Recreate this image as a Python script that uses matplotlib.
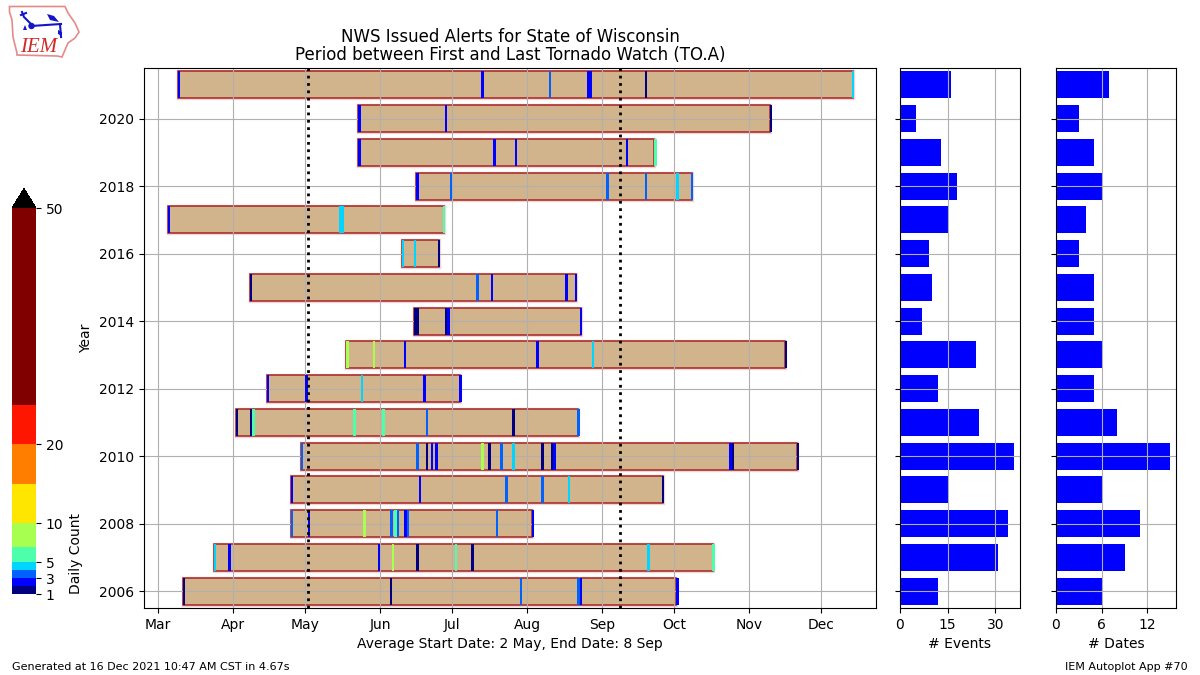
import matplotlib
matplotlib.use("Agg")
import matplotlib.pyplot as plt
from matplotlib.colors import BoundaryNorm
from matplotlib.colorbar import ColorbarBase
from matplotlib.patches import Polygon, Circle

W, H = 1200, 675

def rect(l, t, r, b):
    return [l / W, 1 - b / H, (r - l) / W, (b - t) / H]

years = [2021, 2020, 2019, 2018, 2017, 2016, 2015, 2014, 2013, 2012, 2011, 2010, 2009, 2008, 2007, 2006]
first_day = [69.2, 143.8, 143.8, 167.9, 65.0, 162.1, 99.0, 167.0, 138.8, 106.1, 93.2, 120.2, 116.0, 116.0, 84.1, 71.2]
last_day = [349.0, 314.7, 266.7, 282.2, 179.4, 177.3, 234.2, 236.2, 321.0, 186.1, 234.9, 326.0, 270.3, 216.2, 290.9, 275.7]
events = [16, 5, 13, 18, 15, 9, 10, 7, 24, 12, 25, 36, 15, 34, 31, 12]
dates = [7, 3, 5, 6, 4, 3, 5, 5, 6, 5, 8, 15, 6, 11, 9, 6]

mark_year = [2021] * 6 + [2020] * 3 + [2019] * 5 + [2018] * 6 + [2017] * 3 + [2016] * 3 + [2015] * 5 + [2014] * 4 \
    + [2013] * 6 + [2012] * 5 + [2011] * 8 + [2010] * 15 + [2009] * 6 + [2008] * 10 + [2007] * 9 + [2006] * 6
mark_day = [
    69.2, 194.85, 223.0, 238.8, 262.9, 348.6,
    143.8, 179.9, 314.7,
    143.8, 199.8, 208.9, 255.0, 266.6,
    167.9, 182.0, 246.7, 262.9, 275.7, 282.1,
    65.0, 135.9, 179.1,
    162.1, 167.0, 177.0,
    99.0, 192.8, 199.0, 229.7, 233.8,
    167.0, 179.9, 180.7, 235.9,
    138.8, 150.0, 162.9, 217.6, 240.9, 320.9,
    106.1, 121.8, 145.1, 170.8, 185.7,
    93.2, 99.0, 99.9, 141.7, 153.8, 172.0, 207.7, 234.7,
    120.2, 167.9, 172.0, 174.1, 175.8, 194.85, 197.8, 202.7, 207.7, 219.7, 223.9, 224.7, 297.7, 298.9, 325.9,
    116.0, 169.1, 204.8, 219.7, 230.9, 269.9,
    116.0, 123.0, 145.9, 157.1, 158.8, 160.0, 162.9, 164.1, 201.1, 216.0,
    84.1, 89.9, 152.1, 157.9, 167.9, 184.1, 190.7, 263.7, 290.7,
    71.2, 157.1, 211.0, 234.7, 235.9, 275.7,
]
mark_span = [
    0.8, 1.2, 0.8, 2.0, 0.8, 1.0,
    1.2, 0.8, 0.8,
    1.2, 1.2, 0.8, 0.8, 1.2,
    1.2, 0.8, 1.2, 0.8, 1.2, 0.8,
    0.8, 2.0, 0.8,
    0.8, 0.8, 0.8,
    0.8, 1.2, 0.8, 1.2, 0.8,
    2.0, 0.8, 1.2, 0.8,
    1.2, 0.8, 0.8, 1.2, 0.8, 0.8,
    0.8, 1.2, 0.8, 1.2, 1.2,
    0.8, 0.8, 1.2, 1.2, 1.2, 0.8, 1.2, 1.2,
    1.0, 1.2, 0.8, 0.8, 1.2, 1.2, 1.2, 1.2, 1.2, 1.2, 0.8, 1.2, 1.2, 0.8, 0.8,
    0.8, 0.8, 1.2, 1.2, 0.8, 0.8,
    0.8, 1.0, 1.2, 1.2, 1.2, 0.8, 1.2, 0.9, 0.8, 0.8,
    0.8, 1.2, 0.8, 0.8, 1.2, 0.8, 1.2, 1.2, 1.2,
    0.8, 0.8, 0.8, 1.2, 0.8, 1.2,
]
mark_count = [
    2, 2, 3, 2, 1, 4,
    2, 2, 1,
    2, 2, 2, 2, 5,
    2, 3, 3, 3, 4, 3,
    2, 4, 5,
    4, 4, 1,
    1, 3, 2, 2, 2,
    1, 1, 2, 2,
    7, 7, 2, 2, 4, 1,
    2, 2, 4, 2, 2,
    1, 1, 5, 5, 5, 3, 1, 3,
    3, 3, 1, 2, 2, 7, 1, 3, 4, 1, 1, 2, 2, 1, 1,
    2, 2, 3, 3, 4, 1,
    3, 2, 7, 3, 5, 3, 2, 3, 3, 2,
    4, 2, 2, 7, 1, 5, 1, 4, 5,
    1, 1, 3, 3, 2, 2,
]

month_days = [61, 92, 122, 153, 183, 214, 245, 275, 306, 336]
month_names = ["Mar", "Apr", "May", "Jun", "Jul", "Aug", "Sep", "Oct", "Nov", "Dec"]
avg_start_day = 123.2
avg_end_day = 252.7
bounds = [1, 2, 3, 4, 5, 7, 10, 15, 20, 25, 50]
bound_ticks = [1, 3, 5, 10, 20, 50]
year_ticks = list(range(2006, 2021, 2))

cmap = plt.get_cmap("jet").copy()
cmap.set_over("black")
norm = BoundaryNorm(bounds, cmap.N)

fig = plt.figure(figsize=(12, 6.75), dpi=100)
ax = fig.add_axes(rect(144, 68, 876, 608))
ax2 = fig.add_axes(rect(900, 68, 1020, 608))
ax3 = fig.add_axes(rect(1056, 68, 1176, 608))
cax = fig.add_axes(rect(12, 188.7, 36, 594))

# main panel
spans = [b - a for a, b in zip(first_day, last_day)]
ax.barh(years, spans, left=first_day, height=0.8, facecolor="none", edgecolor="#b2222230",
        linewidth=2.4, zorder=0.9)
ax.barh(years, spans, left=first_day, height=0.8, color="tan", edgecolor="#a82424", linewidth=1.1)
ax.barh(mark_year, mark_span, left=mark_day, height=0.8, color=[cmap(norm(c)) for c in mark_count],
        linewidth=0, zorder=3)
ax.axvline(avg_start_day, color="k", ls=":", lw=2, zorder=4)
ax.axvline(avg_end_day, color="k", ls=":", lw=2, zorder=4)
ax.set_xticks(month_days)
ax.set_xticklabels(month_names)
ax.set_yticks(year_ticks)
ax.set_xlim(55.07, 358.69)
ax.set_ylim(2005.5, 2021.5)
ax.grid(True)
ax.set_ylabel("Year")
ax.set_xlabel("Average Start Date: 2 May, End Date: 8 Sep")
ax.set_title("NWS Issued Alerts for State of Wisconsin\nPeriod between First and Last Tornado Watch (TO.A)",
             fontsize=12, linespacing=0.98)

# side panels
ax2.barh(years, events, height=0.8, color="blue")
ax2.set_xlim(0, 37.8)
ax2.set_xticks([0, 15, 30])
ax2.set_xlabel("# Events")
ax3.barh(years, dates, height=0.8, color="blue")
ax3.set_xlim(0, 15.75)
ax3.set_xticks([0, 6, 12])
ax3.set_xlabel("# Dates")
for a in (ax2, ax3):
    a.set_ylim(2005.5, 2021.5)
    a.set_yticks(year_ticks)
    a.set_yticklabels([])
    a.grid(True)

# colour bar
cb = ColorbarBase(cax, cmap=cmap, norm=norm, extend="max", spacing="proportional",
                  ticks=bound_ticks, orientation="vertical")
cb.ax.set_yticklabels([str(t) for t in bound_ticks])
cb.ax.minorticks_off()
cb.outline.set_visible(False)
cb.set_label("Daily Count", loc="bottom")

fig.text(12 / W, 1 - 666.5 / H, "Generated at 16 Dec 2021 10:47 AM CST in 4.67s", fontsize=8, va="center")
fig.text(1188 / W, 1 - 666.5 / H, "IEM Autoplot App #70", fontsize=8, ha="right", va="center")

# logo
logo_outline = [(9.5, 6.5), (65, 6.5), (68, 13), (75, 23), (79, 32), (75, 38), (68, 43), (65, 50),
                (62, 57), (57, 56), (17, 55), (17, 53), (13, 37), (12, 20), (9.5, 12)]
logo_stem = [(31, 26), (61, 24)]
logo_arm = [(22, 12), (24, 17), (31, 24)]
logo_arm2 = [(21, 15), (26, 13)]
logo_pole = [(60, 24), (61, 37)]
logo_wing = [(47, 14), (54, 16), (59, 22), (50, 20)]
logo_flag = [(58, 30), (62, 32), (62, 36), (58, 34)]
logo_tick = [(23, 30), (25, 25), (27, 30)]
lax = fig.add_axes([0, 1 - 60 / H, 90 / W, 60 / H])
lax.set_xlim(0, 90)
lax.set_ylim(60, 0)
lax.axis("off")
lax.add_patch(Polygon(logo_outline, closed=True, fill=False, edgecolor="#e58a8a", lw=1.2))
for seg in (logo_stem, logo_arm, logo_arm2, logo_pole):
    lax.plot(*zip(*seg), color="#1414c8", lw=1.5)
lax.add_patch(Polygon(logo_wing, closed=True, color="#1414c8", lw=0))
lax.add_patch(Polygon(logo_flag, closed=True, color="#1414c8", lw=0))
lax.add_patch(Polygon(logo_tick, closed=True, color="#1414c8", lw=0))
lax.add_patch(Circle((31.5, 26), 3.2, color="#1414c8", lw=0))
lax.text(20, 51.5, "IEM", family="Liberation Serif", style="italic", color="#cf2a2a", fontsize=15, va="baseline")

fig.savefig("out.png", dpi=100)
